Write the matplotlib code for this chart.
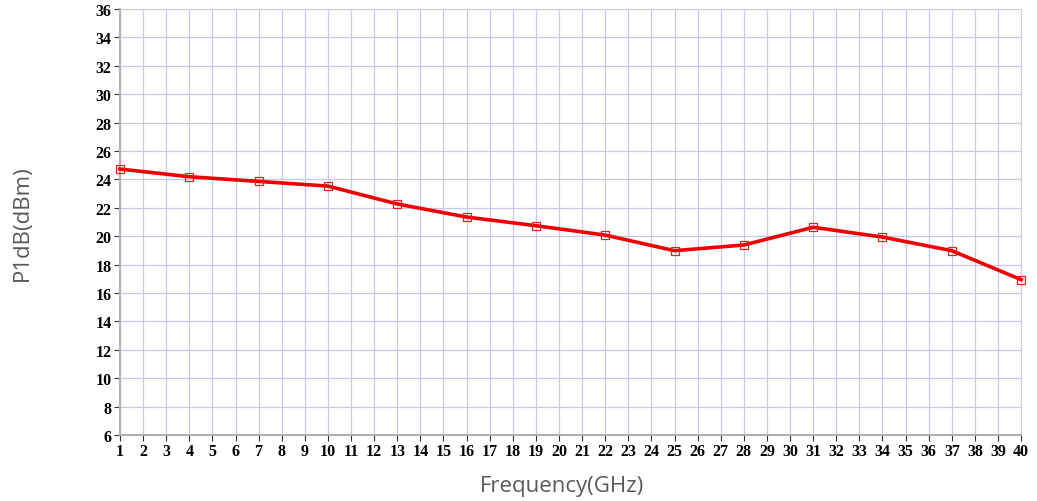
import matplotlib
matplotlib.use("Agg")
import matplotlib.pyplot as plt
from matplotlib.ticker import MultipleLocator

# data
freq = [1, 4, 7, 10, 13, 16, 19, 22, 25, 28, 31, 34, 37, 40]
p1db = [24.73, 24.19, 23.86, 23.53, 22.27, 21.35, 20.74, 20.08, 18.98, 19.38, 20.63, 19.94, 18.98, 16.94]

fig = plt.figure(figsize=(10.37, 5.02), dpi=100)
ax = fig.add_axes([0.1157, 0.1315, 0.8690, 0.8485])

ax.plot(freq, p1db, color="#ee0000", lw=2.6, marker="s", ms=6,
        mfc="none", mec="#dd2222", mew=0.9, zorder=3, clip_on=False)

ax.set_xlim(1, 40)
ax.set_ylim(6, 36)
ax.xaxis.set_major_locator(MultipleLocator(1))
ax.yaxis.set_major_locator(MultipleLocator(2))
ax.grid(True, color="#c8c8ee", lw=0.9)
ax.set_axisbelow(True)

for s in ["top", "right"]:
    ax.spines[s].set_color("#d0d0d0")
for s in ["left", "bottom"]:
    ax.spines[s].set_color("#b0b0b0")
    ax.spines[s].set_linewidth(1.5)

tick_font = dict(family="Liberation Serif", weight="bold", size=11.5)
ax.tick_params(axis="both", length=4, width=0.8, color="#333333", pad=2)
for lab in ax.get_xticklabels() + ax.get_yticklabels():
    lab.set_fontproperties(matplotlib.font_manager.FontProperties(**tick_font))

ax.set_xlabel("Frequency(GHz)", fontsize=16, color="#595959", family="Open Sans")
ax.xaxis.set_label_coords(0.49, -0.094)
ax.set_ylabel("P1dB(dBm)", fontsize=16, color="#595959", family="Open Sans")
ax.yaxis.set_label_coords(-0.097, 0.50)

fig.savefig("out.png", dpi=100)
